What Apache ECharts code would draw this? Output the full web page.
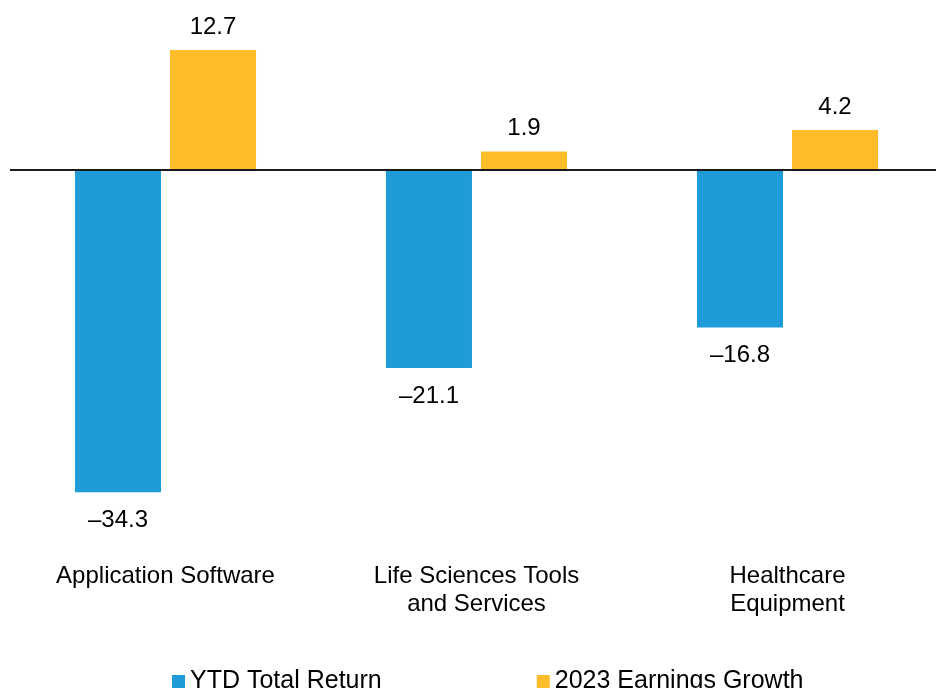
<!DOCTYPE html>
<html>
<head>
<meta charset="utf-8">
<script src="https://cdn.jsdelivr.net/npm/echarts@6/dist/echarts.min.js"></script>
<style>
  html, body { margin: 0; padding: 0; background: #fff; }
  #chart { width: 936px; height: 688px; }
</style>
</head>
<body>
<div id="chart"></div>
<script>
const categories = ['Application Software', 'Life Sciences Tools\nand Services', 'Healthcare\nEquipment'];
const ytdTotalReturn = [-34.3, -21.1, -16.8];
const earningsGrowth = [12.7, 1.9, 4.2];
const seriesNames = ['YTD Total Return', '2023 Earnings Growth'];

const FONT = '"Liberation Sans", Arial, sans-serif';

// 负值标签放在柱子下方，用长破折号
function toBarData(values) {
  return values.map(v => ({
    value: v,
    label: v < 0 ? { position: 'bottom', distance: 16 } : { position: 'top', distance: 11 }
  }));
}

const valueLabel = {
  show: true,
  fontSize: 24,
  color: '#000',
  fontFamily: FONT,
  formatter: p => String(p.value).replace('-', '\u2013')
};

const chart = echarts.init(document.getElementById('chart'));

chart.setOption({
  animation: false,
  textStyle: { fontFamily: FONT },
  grid: { left: 10, top: 0, width: 933, height: 546, outerBoundsMode: 'none' },
  legend: {
    data: seriesNames,
    left: 172,
    top: 669,
    padding: 0,
    icon: 'rect',
    itemWidth: 13,
    itemHeight: 13,
    itemGap: 155,
    textStyle: { fontFamily: FONT, fontSize: 25, color: '#000' }
  },
  xAxis: {
    type: 'category',
    data: categories,
    axisLine: { show: false, onZero: false },
    axisTick: { show: false },
    axisLabel: {
      margin: 16,
      fontSize: 24,
      lineHeight: 28,
      color: '#000',
      fontFamily: FONT,
      interval: 0
    }
  },
  yAxis: {
    type: 'value',
    min: -40,
    max: 18,
    show: false,
    splitLine: { show: false }
  },
  series: [
    {
      name: seriesNames[0],
      type: 'bar',
      data: toBarData(ytdTotalReturn),
      barWidth: 86,
      barGap: '10.5%',
      itemStyle: { color: '#1f9bd7' },
      label: valueLabel,
      markLine: {
        silent: true,
        symbol: 'none',
        label: { show: false },
        lineStyle: { color: '#1a1a1a', width: 2, type: 'solid' },
        data: [{ yAxis: 0 }]
      }
    },
    {
      name: seriesNames[1],
      type: 'bar',
      data: toBarData(earningsGrowth),
      barWidth: 86,
      itemStyle: { color: '#fdbd2a' },
      label: valueLabel
    }
  ]
});
</script>
</body>
</html>
